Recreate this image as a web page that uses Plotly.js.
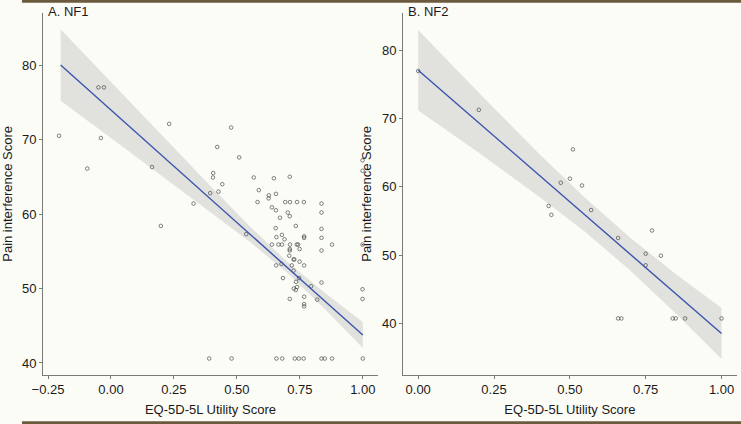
<!DOCTYPE html>
<html>
<head>
<meta charset="utf-8">
<script src="https://cdn.plot.ly/plotly-3.0.1.min.js"></script>
<style>
  html, body { margin: 0; padding: 0; background: #fcfcf7; }
  #chart { width: 741px; height: 424px; }
</style>
</head>
<body>
<div id="chart"></div>
<script>
// A. NF1 scatter (EQ-5D-5L utility vs pain interference)
const nf1X = [-0.206, -0.094, -0.05, -0.028, -0.04, 0.163, 0.198, 0.231, 0.328, 0.394, 0.405, 0.406,
  0.422, 0.427, 0.442, 0.477, 0.509, 0.537,
  0.567, 0.647, 0.710, 0.587, 0.582, 0.627, 0.626, 0.655, 0.639, 0.655, 0.671,
  0.692, 0.711, 0.739, 0.766, 0.836, 0.702, 0.710, 0.836, 0.734, 0.654, 0.836, 0.679, 0.657,
  0.689, 0.767, 0.767, 0.836,
  0.639, 0.665, 0.679, 0.711, 0.738, 0.743, 0.878, 0.999,
  0.710, 0.710, 0.749, 0.836, 0.999, 0.999,
  0.708, 0.725, 0.728, 0.749, 0.656, 0.677, 0.718, 0.767, 0.725, 0.683, 0.747, 0.735, 0.836,
  0.795, 0.726, 0.734, 0.739, 0.767, 0.710, 0.999, 0.999, 0.767, 0.767, 0.819,
  0.39, 0.479, 0.657, 0.68, 0.73, 0.746, 0.765, 0.836, 0.849, 0.878, 1.0];
const nf1Y = [70.5, 66.1, 77.0, 77.0, 70.2, 66.3, 58.4, 72.1, 61.4, 62.8, 64.9, 65.5,
  69.0, 63.0, 64.0, 71.6, 67.6, 57.3,
  64.9, 64.8, 65.0, 63.2, 61.6, 62.5, 62.1, 62.7, 60.9, 60.5, 59.5,
  61.6, 61.6, 61.6, 61.6, 61.4, 60.2, 59.7, 60.2, 58.4, 58.1, 58.0, 57.2, 56.9,
  56.6, 57.0, 56.8, 56.8,
  55.9, 55.9, 55.9, 55.9, 55.9, 55.9, 55.9, 55.9,
  55.3, 55.1, 55.3, 55.1, 67.2, 65.8,
  54.4, 53.9, 53.9, 53.6, 53.1, 53.3, 53.1, 53.1, 52.4, 51.4, 51.4, 50.9, 50.8,
  50.3, 50.0, 49.8, 50.2, 48.9, 48.6, 49.9, 48.6, 47.9, 47.6, 48.5,
  40.6, 40.6, 40.6, 40.6, 40.6, 40.6, 40.6, 40.6, 40.6, 40.6, 40.6];

// NF1 fitted line and confidence band
const nf1FitX = [-0.2, 1.0];
const nf1FitY = [80.0, 43.76];
const nf1BandX = [-0.2, 0.0, 0.2, 0.4, 0.55, 0.7, 0.85, 1.0];
const nf1BandUpper = [84.8, 77.7, 70.7, 63.6, 58.4, 53.6, 49.4, 45.5];
const nf1BandLower = [75.2, 70.2, 65.2, 60.1, 56.3, 52.1, 47.2, 42.0];

// B. NF2 scatter
const nf2X = [0.0, 0.2, 0.51, 0.47, 0.5, 0.54, 0.43, 0.439, 0.57, 0.659, 0.771, 0.75, 0.80, 0.75,
  0.659, 0.67, 0.839, 0.849, 0.88, 1.0];
const nf2Y = [77.0, 71.3, 65.5, 60.6, 61.2, 60.2, 57.2, 55.9, 56.6, 52.5, 53.6, 50.2, 49.9, 48.5,
  40.7, 40.7, 40.7, 40.7, 40.7, 40.7];

const nf2FitX = [0.0, 1.0];
const nf2FitY = [77.1, 38.5];
const nf2BandX = [0.0, 0.2, 0.4, 0.55, 0.7, 0.85, 1.0];
const nf2BandUpper = [83.0, 73.8, 64.8, 58.4, 52.5, 47.2, 42.25];
const nf2BandLower = [71.2, 65.0, 58.5, 53.4, 47.7, 41.4, 34.75];

const xTicks = [-0.25, 0, 0.25, 0.5, 0.75, 1.0];
const yTicks = [40, 50, 60, 70, 80];
const panelTitles = ['A. NF1', 'B. NF2'];
const xTitle = 'EQ-5D-5L Utility Score';
const yTitle = 'Pain interference Score';

const bandColor = '#e1e1de';
const lineColor = '#3b54ad';
const axisColor = '#7a7a7a';
const textColor = '#1a1a1a';

function bandTrace(xs, up, lo, xa, ya) {
  return {
    type: 'scatter', mode: 'lines', xaxis: xa, yaxis: ya,
    x: xs.concat(xs.slice().reverse()),
    y: up.concat(lo.slice().reverse()),
    fill: 'toself', fillcolor: bandColor,
    line: {width: 0}, hoverinfo: 'skip', showlegend: false
  };
}

function pointTrace(xs, ys, xa, ya) {
  return {
    type: 'scatter', mode: 'markers', xaxis: xa, yaxis: ya,
    x: xs, y: ys, showlegend: false,
    marker: {symbol: 'circle-open', size: 3.6, color: 'rgba(60,60,60,0.85)', line: {width: 0.75}}
  };
}

function fitTrace(xs, ys, xa, ya) {
  return {
    type: 'scatter', mode: 'lines', xaxis: xa, yaxis: ya,
    x: xs, y: ys, showlegend: false,
    line: {color: lineColor, width: 1.4}
  };
}

const data = [
  bandTrace(nf1BandX, nf1BandUpper, nf1BandLower, 'x', 'y'),
  pointTrace(nf1X, nf1Y, 'x', 'y'),
  fitTrace(nf1FitX, nf1FitY, 'x', 'y'),
  bandTrace(nf2BandX, nf2BandUpper, nf2BandLower, 'x2', 'y2'),
  pointTrace(nf2X, nf2Y, 'x2', 'y2'),
  fitTrace(nf2FitX, nf2FitY, 'x2', 'y2')
];

function xAxis(domain, range, anchor) {
  return {
    domain: domain, range: range, anchor: anchor,
    tickvals: xTicks, tickformat: '.2f',
    showline: true, linecolor: axisColor, linewidth: 1,
    ticks: 'outside', ticklen: 3, tickcolor: axisColor,
    showgrid: false, zeroline: false,
    tickfont: {size: 13, color: textColor},
    title: {text: xTitle, font: {size: 13, color: textColor}, standoff: 8}
  };
}

function yAxis(range, anchor) {
  return {
    domain: [0.1163, 0.9693], range: range, anchor: anchor,
    tickvals: yTicks,
    showline: true, linecolor: axisColor, linewidth: 1,
    ticks: 'outside', ticklen: 3, tickcolor: axisColor,
    showgrid: false, zeroline: false,
    tickfont: {size: 13, color: textColor},
    title: {text: yTitle, font: {size: 13, color: textColor}, standoff: 7}
  };
}

const layout = {
  width: 741, height: 424,
  margin: {l: 0, r: 0, t: 0, b: 0},
  paper_bgcolor: '#fcfcf7', plot_bgcolor: '#fcfcf7',
  font: {family: '"Liberation Sans", Arial, sans-serif', color: textColor},
  xaxis: xAxis([0.058, 0.510], [-0.27, 1.06], 'y'),
  yaxis: yAxis([38.43, 86.98], 'x'),
  xaxis2: xAxis([0.5439, 0.9942], [-0.05, 1.05], 'y2'),
  yaxis2: yAxis([32.45, 85.5], 'x2'),
  annotations: [
    {text: panelTitles[0], xref: 'paper', yref: 'paper', x: 0.0615, y: 0.9717,
     xanchor: 'left', yanchor: 'middle', showarrow: false, font: {size: 13, color: textColor}},
    {text: panelTitles[1], xref: 'paper', yref: 'paper', x: 0.5475, y: 0.9717,
     xanchor: 'left', yanchor: 'middle', showarrow: false, font: {size: 13, color: textColor}}
  ],
  shapes: [
    {type: 'rect', xref: 'paper', yref: 'paper', x0: 0.0297, x1: 1, y0: 0.9935, y1: 1,
     fillcolor: '#6b5a3d', line: {width: 0}},
    {type: 'rect', xref: 'paper', yref: 'paper', x0: 0.0297, x1: 1, y0: 0, y1: 0.0065,
     fillcolor: '#6b5a3d', line: {width: 0}}
  ]
};

Plotly.newPlot('chart', data, layout, {displayModeBar: false, staticPlot: true});
</script>
</body>
</html>
